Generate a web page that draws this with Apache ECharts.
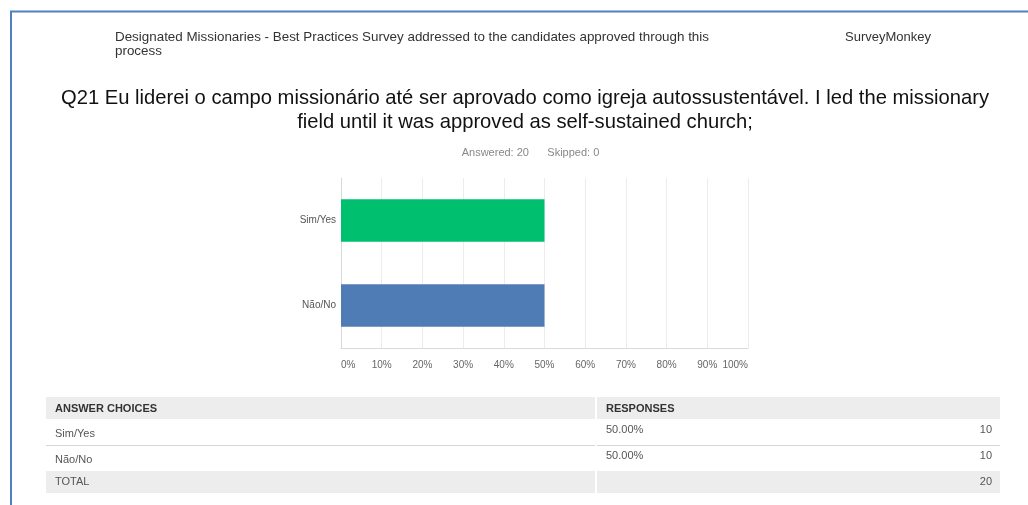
<!DOCTYPE html>
<html>
<head>
<meta charset="utf-8">
<script src="https://cdn.jsdelivr.net/npm/echarts@6/dist/echarts.min.js"></script>
<style>
  html, body { margin: 0; padding: 0; background: #fff; }
  #chart { width: 1028px; height: 505px; }
</style>
</head>
<body>
<div id="chart"></div>
<script>
// Survey question Q21: answer choices and response counts
const categories = ['Sim/Yes', 'Não/No'];
const responseCounts = [10, 10];
const responsePercents = [50.00, 50.00];
const totalAnswered = 20;
const totalSkipped = 0;
const barColors = ['#00bf6f', '#507cb6'];
const xTicks = [0, 10, 20, 30, 40, 50, 60, 70, 80, 90, 100];

const surveyName = 'Designated Missionaries - Best Practices Survey addressed to the candidates approved through this\nprocess';
const brand = 'SurveyMonkey';
const questionTitle = 'Q21 Eu liderei o campo missionário até ser aprovado como igreja autossustentável. I led the missionary\nfield until it was approved as self-sustained church;';

const FONT = '"Liberation Sans", Arial, Helvetica, sans-serif';
const chart = echarts.init(document.getElementById('chart'), null, { renderer: 'canvas' });

// Summary table below the chart
const tableLeft = 46, tableRight = 1000, colSplit = 595, colGap = 2;
const tableGraphics = [];
const grey = '#ecedec';
function cellText(x, y, text, opts) {
  tableGraphics.push({
    type: 'text', x: x, y: y,
    style: Object.assign({
      text: text, font: '11px ' + FONT, fill: '#555',
      verticalAlign: 'middle', align: 'left'
    }, opts || {})
  });
}
// header row
tableGraphics.push({ type: 'rect', shape: { x: tableLeft, y: 397, width: colSplit - tableLeft, height: 22 }, style: { fill: grey } });
tableGraphics.push({ type: 'rect', shape: { x: colSplit + colGap, y: 397, width: tableRight - colSplit - colGap, height: 22 }, style: { fill: grey } });
cellText(55, 408.5, 'ANSWER CHOICES', { font: 'bold 11px ' + FONT, fill: '#333' });
cellText(606, 408.5, 'RESPONSES', { font: 'bold 11px ' + FONT, fill: '#333' });
// answer rows
const rowTops = [419, 445];
categories.forEach(function (name, i) {
  const top = rowTops[i];
  cellText(55, top + 14.5, name);
  cellText(606, top + 11, responsePercents[i].toFixed(2) + '%');
  cellText(992, top + 11, String(responseCounts[i]), { align: 'right' });
  if (i === 0) {
    tableGraphics.push({ type: 'rect', shape: { x: tableLeft, y: top + 26, width: colSplit - tableLeft, height: 1 }, style: { fill: '#d6d6d6' } });
    tableGraphics.push({ type: 'rect', shape: { x: colSplit + colGap, y: top + 26, width: tableRight - colSplit - colGap, height: 1 }, style: { fill: '#d6d6d6' } });
  }
});
// total row
tableGraphics.push({ type: 'rect', shape: { x: tableLeft, y: 471, width: colSplit - tableLeft, height: 22 }, style: { fill: grey } });
tableGraphics.push({ type: 'rect', shape: { x: colSplit + colGap, y: 471, width: tableRight - colSplit - colGap, height: 22 }, style: { fill: grey } });
cellText(55, 482, 'TOTAL');
cellText(992, 482, String(responseCounts.reduce(function (a, b) { return a + b; }, 0)), { align: 'right' });

const option = {
  backgroundColor: '#ffffff',
  animation: false,
  grid: {
    left: 341, right: 280, top: 178, bottom: 157,
    outerBoundsMode: 'none'
  },
  xAxis: {
    type: 'value',
    min: xTicks[0], max: xTicks[xTicks.length - 1], interval: 10,
    axisLine: { show: true, lineStyle: { color: '#d9d9d9', width: 1 } },
    axisTick: { show: false },
    splitLine: { show: true, lineStyle: { color: '#ececec', width: 1 } },
    axisLabel: {
      formatter: '{value}%', color: '#666', fontSize: 10, fontFamily: FONT,
      margin: 12, alignMinLabel: 'left', alignMaxLabel: 'right'
    }
  },
  yAxis: {
    type: 'category',
    data: categories,
    inverse: true,
    axisLine: { show: true, lineStyle: { color: '#d9d9d9', width: 1 } },
    axisTick: { show: false },
    splitLine: { show: false },
    axisLabel: { color: '#555', fontSize: 10, fontFamily: FONT, margin: 5 }
  },
  series: [{
    type: 'bar',
    barWidth: '50%',
    data: responsePercents.map(function (v, i) {
      return { value: v, itemStyle: { color: barColors[i] } };
    })
  }],
  graphic: [
    // page frame
    { type: 'line', shape: { x1: 10, y1: 11.5, x2: 1028, y2: 11.5 }, style: { stroke: '#4f80c0', lineWidth: 2 } },
    { type: 'line', shape: { x1: 11, y1: 11, x2: 11, y2: 505 }, style: { stroke: '#4f80c0', lineWidth: 2 } },
    // page header
    { type: 'text', x: 115, y: 31, style: { text: surveyName, font: '13.4px ' + FONT, fill: '#333', lineHeight: 13.5 } },
    { type: 'text', x: 845, y: 31, style: { text: brand, font: '13px ' + FONT, fill: '#333' } },
    // question title
    { type: 'text', x: 525, y: 86, style: { text: questionTitle, font: '20.2px ' + FONT, fill: '#111', align: 'center', lineHeight: 24 } },
    // answered / skipped
    { type: 'text', x: 530.5, y: 152.5, style: { text: 'Answered: ' + totalAnswered + '      Skipped: ' + totalSkipped, font: '11px ' + FONT, fill: '#888', align: 'center', verticalAlign: 'middle' } }
  ].concat(tableGraphics)
};
chart.setOption(option);
</script>
</body>
</html>
